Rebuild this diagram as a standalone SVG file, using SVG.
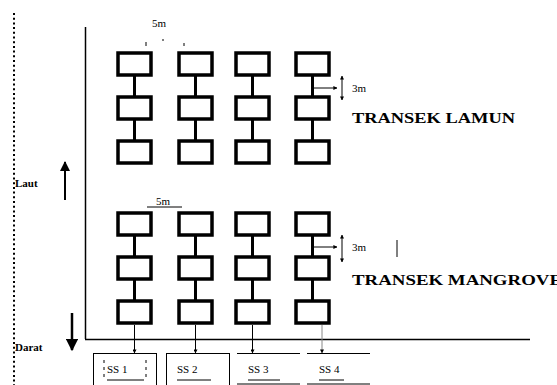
<svg xmlns="http://www.w3.org/2000/svg" width="557" height="385" viewBox="0 0 557 385">
<style>
.box{fill:#fff;stroke:#000;stroke-width:3.5}
.link{stroke:#000;stroke-width:3}
.thin{stroke:#000;stroke-width:1;fill:none}
.lbl{font-family:"Liberation Serif",serif;font-size:11px;fill:#000}
.big{font-family:"Liberation Serif",serif;font-size:14px;font-weight:bold;fill:#000}
.side{font-family:"Liberation Serif",serif;font-size:11px;font-weight:bold;fill:#000}
</style>
<defs>
<marker id="ah" viewBox="0 0 10 10" refX="9" refY="5" markerWidth="5" markerHeight="5" orient="auto-start-reverse"><path d="M0,0 L10,5 L0,10 z" fill="#000"/></marker>
<marker id="ahb" viewBox="0 0 10 10" refX="9" refY="5" markerWidth="4" markerHeight="4" orient="auto-start-reverse"><path d="M0,0 L10,5 L0,10 z" fill="#000"/></marker>
</defs>
<rect width="557" height="385" fill="#fff"/>

<g id="axes">
<line x1="14" y1="13" x2="14" y2="385" stroke="#000" stroke-width="2" stroke-dasharray="2 2.7"/>
<line x1="85.5" y1="27" x2="85.5" y2="339" stroke="#000" stroke-width="1.5"/>
<line x1="85" y1="339.5" x2="530" y2="339.5" stroke="#000" stroke-width="1.5"/>
</g>

<g id="laut">
<text class="side" x="15" y="187">Laut</text>
<line x1="65" y1="200" x2="65" y2="162" stroke="#000" stroke-width="2" marker-end="url(#ah)"/>
</g>
<g id="darat">
<text class="side" x="15" y="351">Darat</text>
<line x1="72" y1="313" x2="72" y2="350" stroke="#000" stroke-width="2.5" marker-end="url(#ah)"/>
</g>

<g id="connectors">
<line class="link" x1="134.5" y1="75" x2="134.5" y2="97"/>
<line class="link" x1="134.5" y1="119" x2="134.5" y2="141"/>
<line class="link" x1="195.5" y1="75" x2="195.5" y2="97"/>
<line class="link" x1="195.5" y1="119" x2="195.5" y2="141"/>
<line class="link" x1="252.5" y1="75" x2="252.5" y2="97"/>
<line class="link" x1="252.5" y1="119" x2="252.5" y2="141"/>
<line class="link" x1="312.5" y1="75" x2="312.5" y2="97"/>
<line class="link" x1="312.5" y1="119" x2="312.5" y2="141"/>
<line class="link" x1="134.5" y1="235" x2="134.5" y2="257"/>
<line class="link" x1="134.5" y1="279" x2="134.5" y2="301"/>
<line class="link" x1="195.5" y1="235" x2="195.5" y2="257"/>
<line class="link" x1="195.5" y1="279" x2="195.5" y2="301"/>
<line class="link" x1="252.5" y1="235" x2="252.5" y2="257"/>
<line class="link" x1="252.5" y1="279" x2="252.5" y2="301"/>
<line class="link" x1="312.5" y1="235" x2="312.5" y2="257"/>
<line class="link" x1="312.5" y1="279" x2="312.5" y2="301"/>
<line class="thin" x1="134.5" y1="325" x2="134.5" y2="353" marker-end="url(#ahb)"/>
<line class="thin" x1="195.5" y1="325" x2="195.5" y2="353" marker-end="url(#ahb)"/>
<line class="thin" x1="252.5" y1="325" x2="252.5" y2="353" marker-end="url(#ahb)"/>
<line x1="322" y1="325" x2="322" y2="353" stroke="#888" stroke-width="1" marker-end="url(#ahb)"/>
<line class="thin" x1="312.5" y1="88" x2="337" y2="88" marker-end="url(#ahb)"/>
<line class="thin" x1="342" y1="76" x2="342" y2="100" stroke-width="1.5" marker-start="url(#ahb)" marker-end="url(#ahb)"/>
<line class="thin" x1="312.5" y1="247" x2="337" y2="247" marker-end="url(#ahb)"/>
<line class="thin" x1="342" y1="235" x2="342" y2="262" stroke-width="1.5" marker-start="url(#ahb)" marker-end="url(#ahb)"/>
<line class="thin" x1="397" y1="240" x2="397" y2="257"/>
</g>

<g id="lamun">
<rect class="box" x="118" y="53" width="33" height="22"/>
<rect class="box" x="118" y="97" width="33" height="22"/>
<rect class="box" x="118" y="141" width="33" height="22"/>
<rect class="box" x="179" y="53" width="33" height="22"/>
<rect class="box" x="179" y="97" width="33" height="22"/>
<rect class="box" x="179" y="141" width="33" height="22"/>
<rect class="box" x="236" y="53" width="33" height="22"/>
<rect class="box" x="236" y="97" width="33" height="22"/>
<rect class="box" x="236" y="141" width="33" height="22"/>
<rect class="box" x="296" y="53" width="33" height="22"/>
<rect class="box" x="296" y="97" width="33" height="22"/>
<rect class="box" x="296" y="141" width="33" height="22"/>
<text class="lbl" x="152" y="27">5m</text>
<line class="thin" x1="146" y1="42" x2="146" y2="46"/>
<line class="thin" x1="163" y1="39" x2="163" y2="41"/>
<line class="thin" x1="184" y1="43" x2="184" y2="46"/>
<text class="lbl" x="352" y="92">3m</text>
<text class="big" x="352" y="123" textLength="163" lengthAdjust="spacingAndGlyphs">TRANSEK LAMUN</text>
</g>

<g id="mangrove">
<rect class="box" x="118" y="213" width="33" height="22"/>
<rect class="box" x="118" y="257" width="33" height="22"/>
<rect class="box" x="118" y="301" width="33" height="22"/>
<rect class="box" x="179" y="213" width="33" height="22"/>
<rect class="box" x="179" y="257" width="33" height="22"/>
<rect class="box" x="179" y="301" width="33" height="22"/>
<rect class="box" x="236" y="213" width="33" height="22"/>
<rect class="box" x="236" y="257" width="33" height="22"/>
<rect class="box" x="236" y="301" width="33" height="22"/>
<rect class="box" x="296" y="213" width="33" height="22"/>
<rect class="box" x="296" y="257" width="33" height="22"/>
<rect class="box" x="296" y="301" width="33" height="22"/>
<text class="lbl" x="156" y="205">5m</text>
<line class="thin" x1="147" y1="207" x2="182" y2="207"/>
<text class="lbl" x="352" y="251">3m</text>
<text class="big" x="352" y="285" textLength="210" lengthAdjust="spacingAndGlyphs">TRANSEK MANGROVE</text>
</g>

<g id="ss1">
<rect class="thin" x="93.5" y="353.5" width="63" height="34"/>
<line x1="104" y1="360" x2="104" y2="380" stroke="#000" stroke-width="1" stroke-dasharray="3 4"/>
<line x1="146" y1="360" x2="146" y2="380" stroke="#000" stroke-width="1" stroke-dasharray="3 4"/>
<text class="lbl" x="107" y="373">SS 1</text>
<line class="thin" x1="107" y1="380" x2="144" y2="380"/>
</g>
<g id="ss2">
<rect class="thin" x="166.5" y="353.5" width="63" height="34"/>
<text class="lbl" x="177" y="373">SS 2</text>
<line class="thin" x1="177" y1="380" x2="211" y2="380"/>
</g>
<g id="ss3">
<line class="thin" x1="237" y1="353.5" x2="300" y2="353.5"/>
<line class="thin" x1="237" y1="384" x2="300" y2="384"/>
<text class="lbl" x="248" y="373">SS 3</text>
<line class="thin" x1="248" y1="380" x2="280" y2="380"/>
</g>
<g id="ss4">
<line class="thin" x1="307" y1="353.5" x2="370" y2="353.5"/>
<line class="thin" x1="307" y1="384" x2="370" y2="384"/>
<text class="lbl" x="319" y="373">SS 4</text>
<line class="thin" x1="319" y1="380" x2="344" y2="380"/>
</g>
</svg>
